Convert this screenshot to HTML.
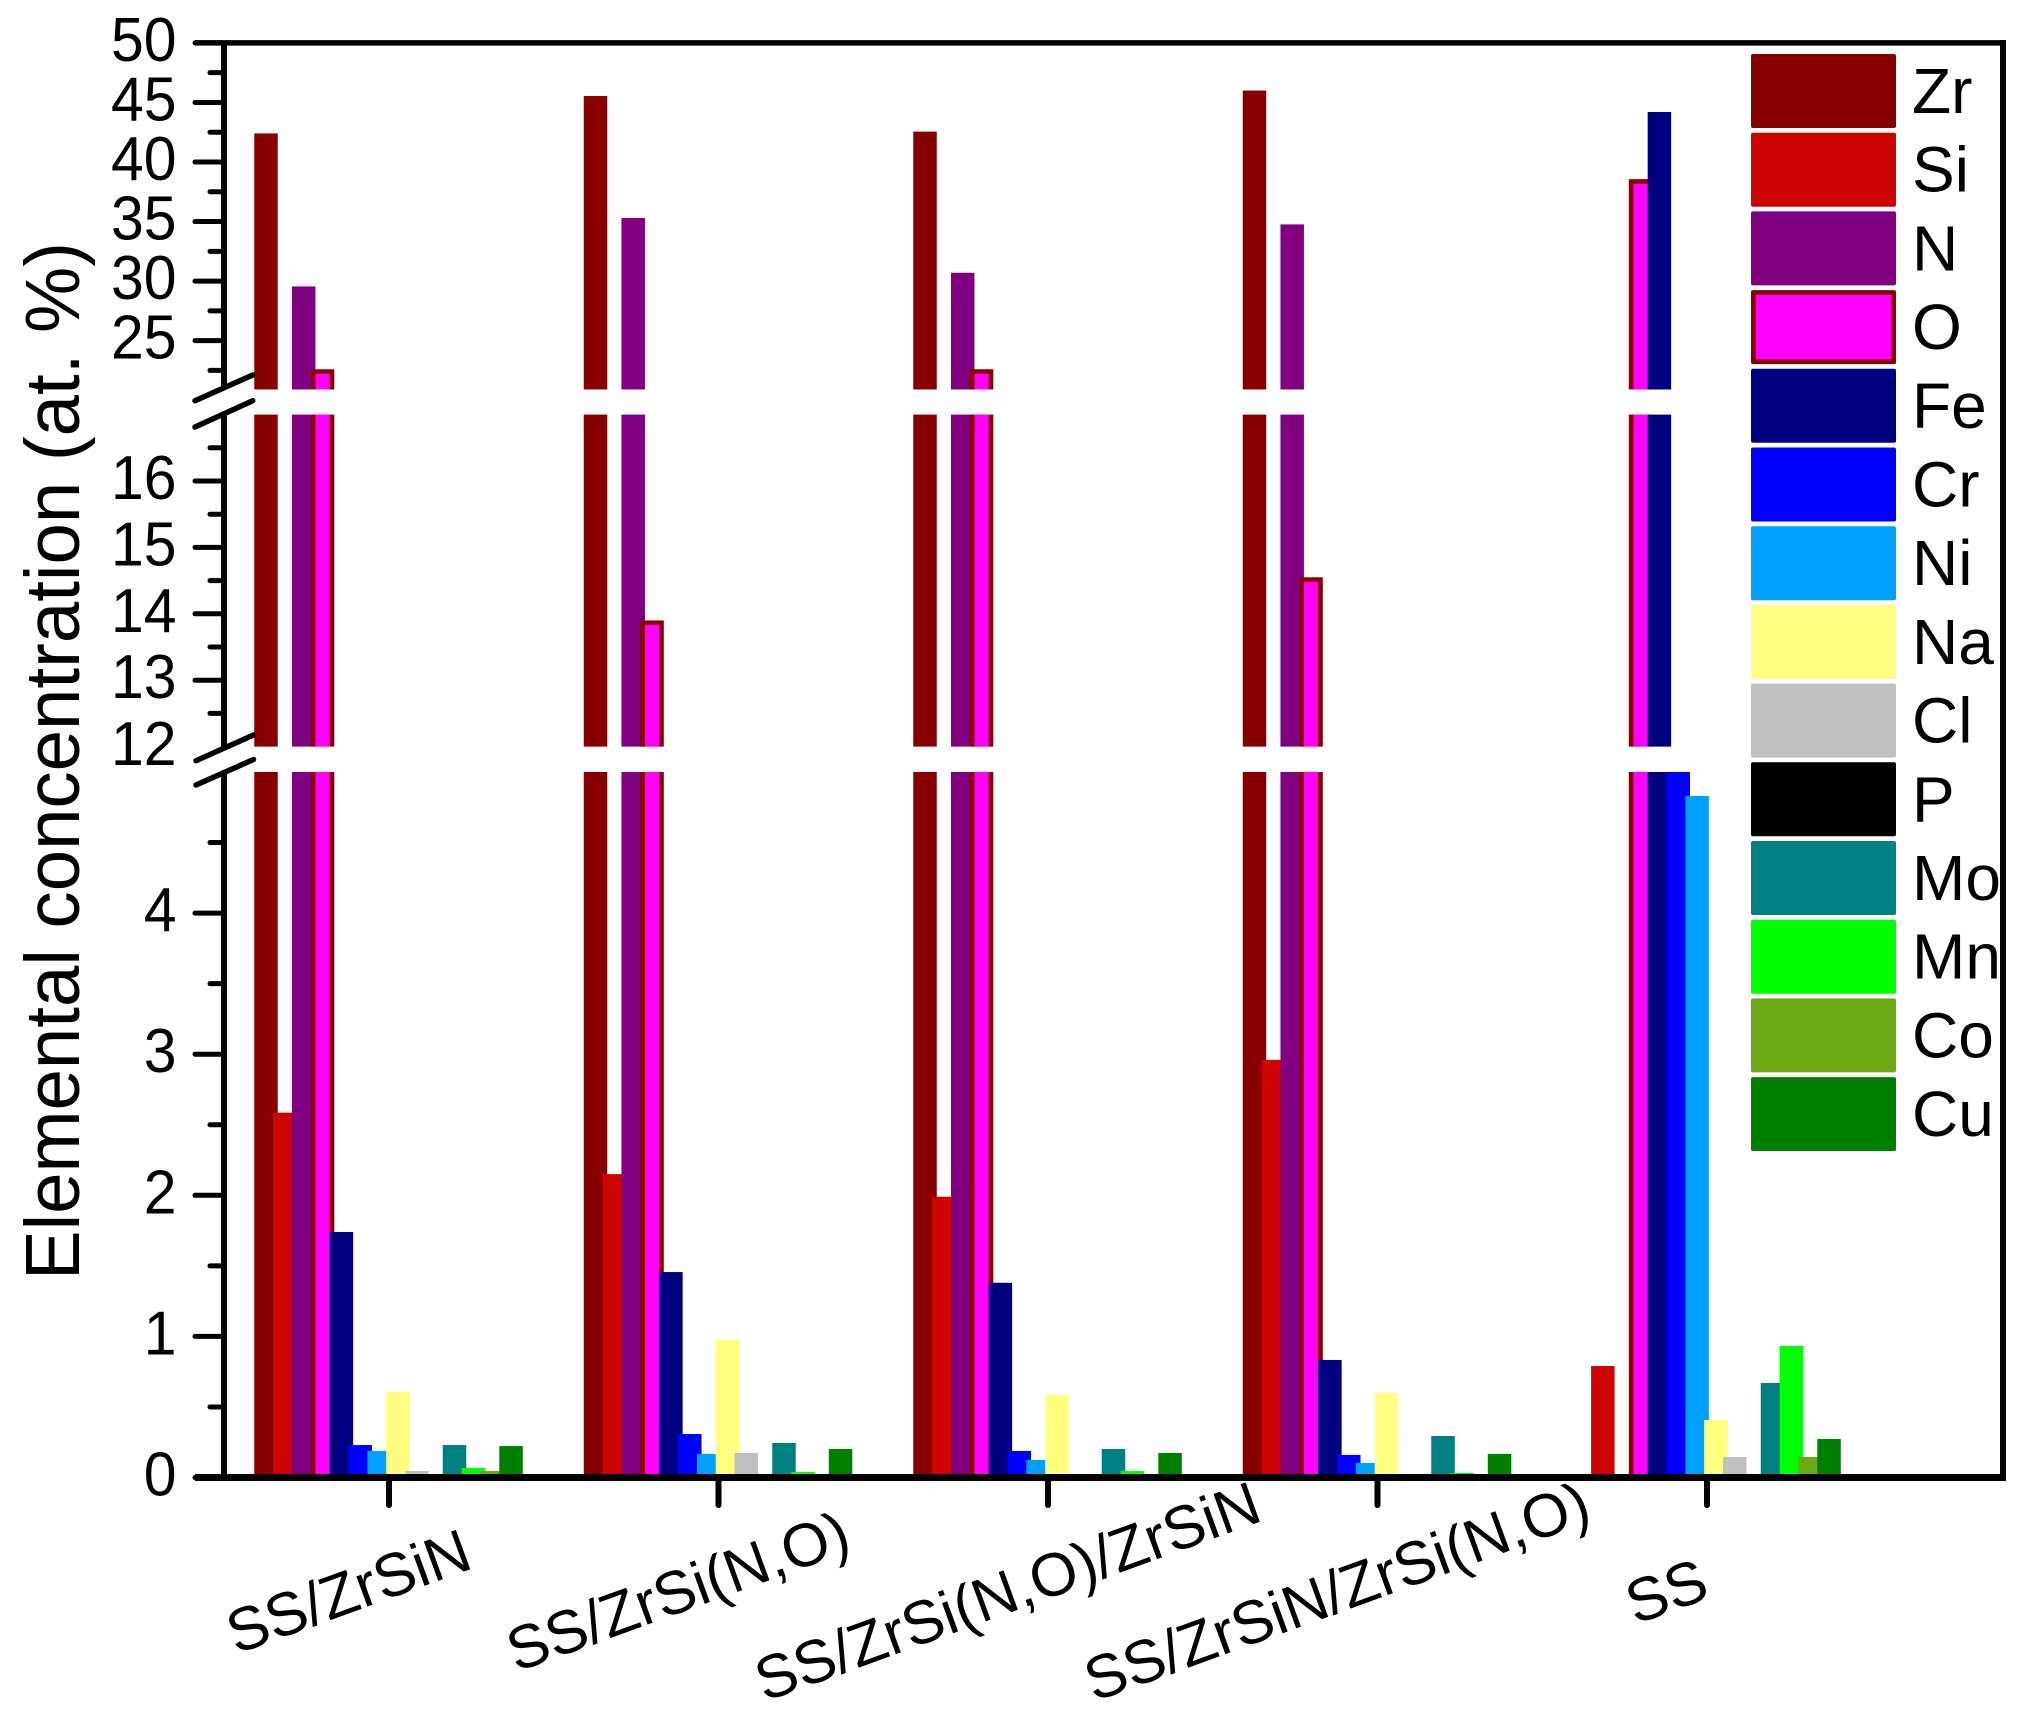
<!DOCTYPE html>
<html lang="en">
<head>
<meta charset="utf-8">
<title>Elemental concentration</title>
<style>
html,body{margin:0;padding:0;background:#fff;}
svg{display:block;font-family:"Liberation Sans",Arial,sans-serif;}
</style>
</head>
<body>
<svg id="chart" xmlns="http://www.w3.org/2000/svg" width="2022" height="1710" viewBox="0 0 2022 1710">
<rect x="0" y="0" width="2022" height="1710" fill="#fff"/>
<g id="bars"></g>
<g id="axes"></g>
<g id="legend"></g>
<text transform="translate(79,1280) rotate(-90)" font-size="77" textLength="1038" lengthAdjust="spacingAndGlyphs" fill="#000">Elemental concentration (at. %)</text>
</svg>
<script>
const categories = ["SS/ZrSiN", "SS/ZrSi(N,O)", "SS/ZrSi(N,O)/ZrSiN", "SS/ZrSiN/ZrSi(N,O)", "SS"];
const elements = ["Zr", "Si", "N", "O", "Fe", "Cr", "Ni", "Na", "Cl", "P", "Mo", "Mn", "Co", "Cu"];
const zr = [42.4, 45.54, 42.55, 46.0, 0];
const si = [2.586, 2.15, 1.99, 2.96, 0.79];
const n = [29.55, 35.3, 30.7, 34.76, 0];
const o = [22.6, 13.9, 22.6, 14.55, 38.56];
const fe = [1.74, 1.456, 1.38, 0.833, 44.2];
const cr = [0.23, 0.308, 0.188, 0.16, 6];
const ni = [0.188, 0.167, 0.124, 0.103, 4.83];
const na = [0.606, 0.975, 0.585, 0.599, 0.407];
const cl = [0.046, 0.174, 0, 0, 0.145];
const p = [0, 0, 0, 0, 0];
const mo = [0.23, 0.245, 0.202, 0.294, 0.67];
const mn = [0.067, 0.039, 0.046, 0.032, 0.932];
const co = [0.046, 0, 0, 0, 0.145];
const cu = [0.223, 0.202, 0.174, 0.167, 0.273];
const upperTicks = [50, 45, 40, 35, 30, 25];
const upperMinorTicks = [47.5, 42.5, 37.5, 32.5, 27.5, 22.5];
const middleTicks = [16, 15, 14, 13, 12];
const middleMinorTicks = [16.5, 15.5, 14.5, 13.5, 12.5];
const lowerTicks = [4, 3, 2, 1, 0];
const lowerMinorTicks = [4.5, 3.5, 2.5, 1.5, 0.5];

const seriesValues = [zr, si, n, o, fe, cr, ni, na, cl, p, mo, mn, co, cu];
const seriesColors = ["#880000", "#cc0404", "#800080", "#ff00ff", "#000080", "#0000ff", "#00a0ff", "#ffff80", "#c0c0c0", "#000000", "#008080", "#00ff00", "#6fa815", "#008000"];

const SVGNS = "http://www.w3.org/2000/svg";
const BORDER = "#8b0000";

function scaleLower(v) { return 1477.5 - v * 141.1; }
function scaleMiddle(v) { return 746.6 - (v - 12) * 66.4; }
function scaleUpper(v) { return 42.9 + (50 - v) * 11.91; }
function scaleGroup(g) { return 389 + g * 329.5; }
function scaleBarLeft(g, s) { return scaleGroup(g) - 134.75 + s * 18.85; }

const segments = [
  { name: "lower", lo: 0, hi: 5, y: scaleLower },
  { name: "middle", lo: 12, hi: 17, y: scaleMiddle },
  { name: "upper", lo: 20.9, hi: 50, y: scaleUpper }
];

function rect(parent, x, y, w, h, fill) {
  const r = document.createElementNS(SVGNS, "rect");
  r.setAttribute("x", x);
  r.setAttribute("y", y);
  r.setAttribute("width", w);
  r.setAttribute("height", h);
  r.setAttribute("fill", fill);
  parent.appendChild(r);
  return r;
}
function line(parent, x1, y1, x2, y2, w, cap) {
  const l = document.createElementNS(SVGNS, "line");
  l.setAttribute("x1", x1);
  l.setAttribute("y1", y1);
  l.setAttribute("x2", x2);
  l.setAttribute("y2", y2);
  l.setAttribute("stroke", "#000");
  l.setAttribute("stroke-width", w);
  l.setAttribute("stroke-linecap", cap);
  parent.appendChild(l);
  return l;
}
function label(parent, x, y, size, anchor, str) {
  const t = document.createElementNS(SVGNS, "text");
  t.setAttribute("x", x);
  t.setAttribute("y", y);
  t.setAttribute("font-size", size);
  t.setAttribute("text-anchor", anchor);
  t.setAttribute("fill", "#000");
  t.textContent = str;
  parent.appendChild(t);
  return t;
}
/* tick numerals in the reference are slightly taller and narrower than the plain font */
function tickLabel(parent, y, str) {
  const t = label(parent, 0, 0, 62, "end", str);
  t.setAttribute("transform", "translate(176.5," + y + ") scale(0.95,1)");
  return t;
}

const barsG = document.getElementById("bars");
const axesG = document.getElementById("axes");
const legendG = document.getElementById("legend");
const BAR_W = 23.5;

seriesValues.forEach(function (vals, s) {
  vals.forEach(function (v, g) {
    if (!(v > 0)) return;
    segments.forEach(function (seg) {
      if (v <= seg.lo) return;
      const top = seg.y(Math.min(v, seg.hi));
      const bottom = seg.y(seg.lo);
      const x = scaleBarLeft(g, s);
      if (elements[s] === "O") {
        const outer = rect(barsG, x, top, BAR_W, bottom - top, BORDER);
        
        
        const insetTop = v <= seg.hi ? 4.6 : 0;
        const inner = rect(barsG, x + 4.7, top + insetTop, BAR_W - 9.4, bottom - top - insetTop, seriesColors[s]);
        
        
      } else {
        const bar = rect(barsG, x, top, BAR_W, bottom - top, seriesColors[s]);
        
        
      }
    });
  });
});

/* axis frame */
const axisParts = [[42.9, 388], [414, 748], [772.5, 1477.5]];
axisParts.forEach(function (part, i) {
  const a = line(axesG, 224, part[0], 224, part[1], 6, "butt");
  
  
});
const topLine = line(axesG, 195, 42.9, 2006, 42.9, 5.5, "butt");


const rightLine = line(axesG, 2003, 40, 2003, 1481, 6, "butt");


const bottomLine = line(axesG, 195, 1477.5, 2006, 1477.5, 7, "butt");



/* y ticks */
function drawTicks(values, scale, isMajor) {
  values.forEach(function (v) {
    const y = scale(v);
    const t = line(axesG, isMajor ? 195 : 210, y, 222, y, 5, "round");
    
    
    if (isMajor) {
      const lab = tickLabel(axesG, y + 18, String(v));
      
      
    }
  });
}
drawTicks(upperTicks, scaleUpper, true);
drawTicks(upperMinorTicks, scaleUpper, false);
drawTicks(middleTicks.filter(function (v) { return v > 12; }), scaleMiddle, true);
drawTicks(middleMinorTicks, scaleMiddle, false);
drawTicks(lowerTicks, scaleLower, true);
drawTicks(lowerMinorTicks, scaleLower, false);
const lab12 = tickLabel(axesG, 765, String(middleTicks[4]));



/* axis break marks */
[[195, 400.7, 252.7, 375], [195, 427, 252.7, 400.7], [196, 760.7, 253.5, 735], [196, 785, 253.5, 759.5]].forEach(function (b, i) {
  const m = line(axesG, b[0], b[1], b[2], b[3], 5.5, "round");
  
  
});

/* x ticks + labels */
categories.forEach(function (c, g) {
  const x = scaleGroup(g);
  const t = line(axesG, x, 1481, x, 1505, 6, "round");
  
  
  const lab = label(axesG, 0, 0, 61, "middle", c);
  lab.setAttribute("transform", "translate(" + (x - 33.5) + ",1611) rotate(-20)");
  
  
});

/* legend */
elements.forEach(function (el, i) {
  const y = 54 + i * 78.7;
  const sw = rect(legendG, 1751, y, 145, 74, el === "O" ? BORDER : seriesColors[i]);
  sw.setAttribute("rx", "2");
  
  
  if (el === "O") {
    const inner = rect(legendG, 1755.7, y + 4.7, 135.6, 64.6, seriesColors[i]);
    
    
  }
  const lab = label(legendG, 1912, y + 59, 64, "start", el);
  
  
});
</script>
</body>
</html>
